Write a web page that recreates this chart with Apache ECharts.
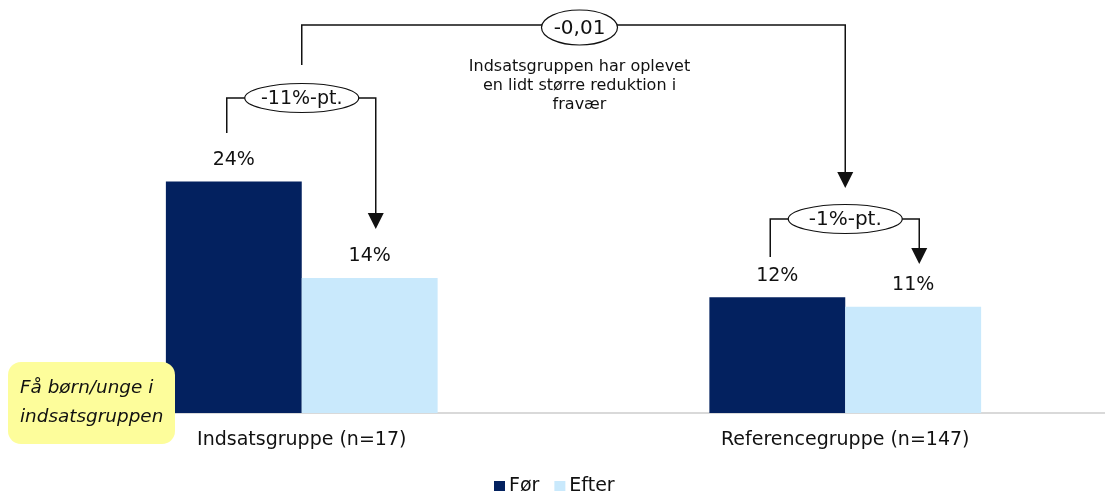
<!DOCTYPE html>
<html>
<head>
<meta charset="utf-8">
<script src="https://cdn.jsdelivr.net/npm/echarts@6/dist/echarts.min.js"></script>
<style>
  html, body { margin: 0; padding: 0; background: #fff; }
  #chart { width: 1105px; height: 491px; }
</style>
</head>
<body>
<div id="chart"></div>
<script>
// Fravær før og efter, i procent
const categories = ['Indsatsgruppe (n=17)', 'Referencegruppe (n=147)'];
const seriesNames = ['Før', 'Efter'];
const forValues = [24, 12];
const efterValues = [14, 11];
const groupChange = ['-11%-pt.', '-1%-pt.'];
const diffLabel = '-0,01';
const diffNote = 'Indsatsgruppen har oplevet\nen lidt større reduktion i\nfravær';
const noteBox = 'Få børn/unge i\nindsatsgruppen';

const FONT = '"DejaVu Sans", Verdana, sans-serif';
const NAVY = '#03215f';
const LIGHT = '#c9e9fc';
const INK = '#111';

const chart = echarts.init(document.getElementById('chart'), null, { renderer: 'canvas' });

const barLabel = {
  show: true,
  position: 'top',
  distance: 12,
  formatter: p => p.value + '%',
  color: INK,
  fontSize: 19,
  fontFamily: FONT
};

chart.setOption({
  animation: false,
  backgroundColor: '#fff',
  textStyle: { fontFamily: FONT },
  grid: { left: 30, right: -12, top: 27, bottom: 78, containLabel: false, outerBoundsMode: 'none' },
  legend: {
    data: seriesNames,
    top: 472,
    left: 489,
    itemWidth: 11,
    itemHeight: 11,
    itemGap: 15,
    icon: 'rect',
    textStyle: { fontSize: 19, color: INK, fontFamily: FONT, padding: [0, 0, 0, -1] }
  },
  xAxis: {
    type: 'category',
    data: categories,
    axisTick: { show: false },
    axisLine: { lineStyle: { color: '#d9d9d9', width: 2 } },
    axisLabel: { color: INK, fontSize: 19, fontFamily: FONT, margin: 18 }
  },
  yAxis: {
    type: 'value',
    min: 0,
    max: 40,
    show: false,
    splitLine: { show: false }
  },
  series: [
    {
      name: seriesNames[0], type: 'bar', data: forValues,
      barGap: '0%', barCategoryGap: '50%',
      itemStyle: { color: NAVY }, label: barLabel
    },
    {
      name: seriesNames[1], type: 'bar', data: efterValues,
      barGap: '0%', barCategoryGap: '50%',
      itemStyle: { color: LIGHT }, label: barLabel
    }
  ]
});

// Annotations: brackets with arrows anchored at the category centres
const c0 = chart.convertToPixel({ gridIndex: 0 }, [0, 0])[0];
const c1 = chart.convertToPixel({ gridIndex: 0 }, [1, 0])[0];

const lineStyle = { stroke: INK, lineWidth: 1.5, fill: null };

function arrowHead(x, tipY) {
  return {
    type: 'polygon', z: 10,
    shape: { points: [[x - 8, tipY - 16], [x + 8, tipY - 16], [x, tipY]] },
    style: { fill: INK }
  };
}

function bubble(cx, cy, rx, ry, text, size) {
  return [
    { type: 'ellipse', z: 11, shape: { cx: cx, cy: cy, rx: rx, ry: ry },
      style: { fill: '#fff', stroke: INK, lineWidth: 1.2 } },
    { type: 'text', z: 12,
      style: { text: text, x: cx, y: cy + 1, align: 'center', verticalAlign: 'middle',
               fill: INK, fontSize: size, fontFamily: FONT } }
  ];
}

function groupBracket(c, ellY, leftBottom, tipY, text, size) {
  const xl = c - 75, xr = c + 74;
  return [
    { type: 'polyline', z: 10,
      shape: { points: [[xl, leftBottom], [xl, ellY], [xr, ellY], [xr, tipY - 14]] },
      style: lineStyle },
    arrowHead(xr, tipY)
  ].concat(bubble(c, ellY, 57, 14.5, text, size));
}

const midX = (c0 + c1) / 2 + 6;
const graphics = [
  // overall comparison bracket
  { type: 'polyline', z: 10,
    shape: { points: [[c0, 65], [c0, 25], [c1, 25], [c1, 173]] },
    style: lineStyle },
  arrowHead(c1, 188)
].concat(
  bubble(midX, 27.5, 38, 17.5, diffLabel, 20),
  [{
    type: 'text', z: 12,
    style: { text: diffNote, x: midX, y: 86, align: 'center', verticalAlign: 'middle',
             fill: INK, fontSize: 16, lineHeight: 19, fontFamily: FONT }
  }],
  groupBracket(c0, 98, 133, 229, groupChange[0], 19),
  groupBracket(c1, 219, 257, 264, groupChange[1], 20),
  [
    { type: 'rect', z: 20,
      shape: { x: 8, y: 362, width: 167, height: 82, r: 13 },
      style: { fill: '#fdfd9b' } },
    { type: 'text', z: 21,
      style: { text: noteBox, x: 20, y: 403, align: 'left', verticalAlign: 'middle',
               fill: INK, fontSize: 18.4, lineHeight: 29, fontStyle: 'italic', fontFamily: FONT } }
  ]
);

chart.setOption({ graphic: { elements: graphics } });
</script>
</body>
</html>
